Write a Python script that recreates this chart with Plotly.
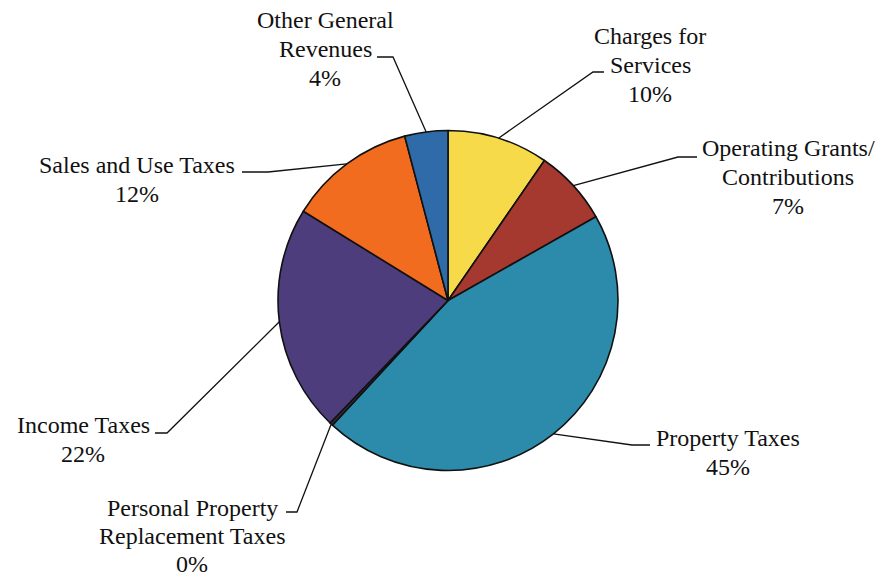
import math
import plotly.graph_objects as go

# ---- data ----
categories = [
    "Charges for Services",
    "Operating Grants/ Contributions",
    "Property Taxes",
    "Personal Property Replacement Taxes",
    "Income Taxes",
    "Sales and Use Taxes",
    "Other General Revenues",
]
values = [9.6, 7.2, 45.1, 0.3, 21.6, 12.1, 4.1]
label_lines = [
    ["Charges for", "Services"],
    ["Operating Grants/", "Contributions"],
    ["Property Taxes"],
    ["Personal Property", "Replacement Taxes"],
    ["Income Taxes"],
    ["Sales and Use Taxes"],
    ["Other General", "Revenues"],
]
colors = ["#F7DA4A", "#A5392F", "#2C8AAA", "#3A2C45", "#4E3D7C", "#F26C20", "#2E6BA8"]

# ---- layout (pixels) ----
W, H = 881, 579
CX, CY, R = 448, 300.5, 170
FONT_SIZE = 24
LINE_GAP = 29

def px(x):
    return x / W

def py(y):
    return 1 - y / H

# label block: centre x, first baseline y, leader elbow start, leader elbow end (pixels)
label_pos = [
    (650, 44, (604, 72), (593, 72)),
    (788, 156, (697, 157), (678, 157)),
    (728, 446, (650, 445), (632, 445)),
    (192, 516, (286, 512), (297, 512)),
    (83, 433, (155, 433), (167, 433)),
    (137, 173, (242, 172), (268, 172)),
    (325, 28, (377, 57), (393, 57)),
]

fig = go.Figure()
fig.add_trace(go.Pie(
    labels=categories,
    values=values,
    sort=False,
    direction="clockwise",
    rotation=0,
    marker=dict(colors=colors, line=dict(color="#111111", width=1.6)),
    textinfo="none",
    hoverinfo="label+percent",
    showlegend=False,
    domain=dict(x=[px(CX - R), px(CX + R)], y=[py(CY + R), py(CY - R)]),
))

total = sum(values)
shapes = []
annotations = []
cum = 0.0
for cat, v, lines, (tx, ty, e0, e1) in zip(categories, values, label_lines, label_pos):
    mid = (cum + v / 2) / total * 360.0
    cum += v
    a = math.radians(mid)
    rx = CX + R * math.sin(a)
    ry = CY - R * math.cos(a)
    pct = f"{round(v / total * 100)}%"
    all_lines = lines + [pct]
    for i, line in enumerate(all_lines):
        base = ty + i * (LINE_GAP - (1 if len(all_lines) == 3 and ty > 500 else 0))
        annotations.append(dict(
            x=px(tx), y=py(base - 0.33 * FONT_SIZE), xref="paper", yref="paper",
            text=line,
            showarrow=False, align="center", xanchor="center", yanchor="middle",
            font=dict(family="Liberation Serif, Times New Roman, serif", size=FONT_SIZE, color="#111111"),
        ))
    path = f"M {px(e0[0])},{py(e0[1])} L {px(e1[0])},{py(e1[1])} L {px(rx)},{py(ry)}"
    shapes.append(dict(type="path", xref="paper", yref="paper", path=path,
                       line=dict(color="#111111", width=1.3)))

fig.update_layout(
    width=W, height=H,
    margin=dict(l=0, r=0, t=0, b=0),
    paper_bgcolor="white", plot_bgcolor="white",
    shapes=shapes, annotations=annotations,
)

fig.write_html(
    "out.html",
    config={"displayModeBar": False},
    post_script="document.body.style.margin='0';document.body.style.overflow='hidden';",
)
